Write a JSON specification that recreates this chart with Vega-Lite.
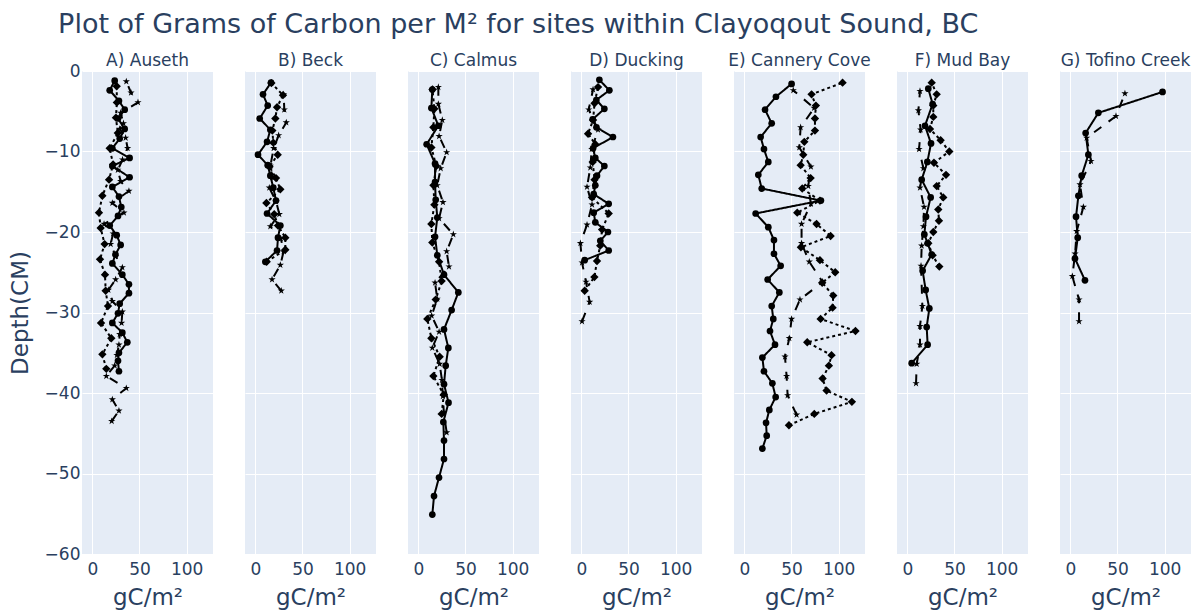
{
  "$schema": "https://vega.github.io/schema/vega-lite/v6.json",
  "background": "white",
  "padding": {"left": 9, "top": 10, "right": 5, "bottom": 4},
  "title": {
    "text": "Plot of Grams of Carbon per M² for sites within Clayoqout Sound, BC",
    "anchor": "start",
    "frame": "bounds",
    "dx": 49,
    "offset": 13.5,
    "font": "DejaVu Sans",
    "fontSize": 27,
    "fontWeight": "normal",
    "color": "#2a3f5f"
  },
  "config": {
    "view": {"fill": "#E5ECF6", "stroke": null},
    "axis": {
      "gridColor": "white",
      "gridWidth": 1,
      "gridOpacity": 1,
      "domain": false,
      "ticks": false,
      "labelColor": "#2a3f5f",
      "titleColor": "#2a3f5f",
      "labelFont": "DejaVu Sans",
      "titleFont": "DejaVu Sans",
      "labelFontSize": 17,
      "titleFontSize": 23,
      "titleFontWeight": "normal"
    },
    "header": {
      "labelFont": "DejaVu Sans",
      "labelFontSize": 17,
      "labelColor": "#2a3f5f"
    }
  },
  "data": {
    "values": [
      {"site": "A) Auseth", "core": "1", "depth": -1.2, "gc": 23.7},
      {"site": "A) Auseth", "core": "1", "depth": -2.4, "gc": 18.4},
      {"site": "A) Auseth", "core": "1", "depth": -3.7, "gc": 28.2},
      {"site": "A) Auseth", "core": "1", "depth": -4.8, "gc": 34.3},
      {"site": "A) Auseth", "core": "1", "depth": -5.9, "gc": 27.2},
      {"site": "A) Auseth", "core": "1", "depth": -7.2, "gc": 34.3},
      {"site": "A) Auseth", "core": "1", "depth": -8.4, "gc": 29.0},
      {"site": "A) Auseth", "core": "1", "depth": -9.6, "gc": 21.2},
      {"site": "A) Auseth", "core": "1", "depth": -10.8, "gc": 39.5},
      {"site": "A) Auseth", "core": "1", "depth": -11.8, "gc": 21.2},
      {"site": "A) Auseth", "core": "1", "depth": -13.2, "gc": 39.5},
      {"site": "A) Auseth", "core": "1", "depth": -14.4, "gc": 21.2},
      {"site": "A) Auseth", "core": "1", "depth": -15.6, "gc": 28.2},
      {"site": "A) Auseth", "core": "1", "depth": -16.9, "gc": 30.7},
      {"site": "A) Auseth", "core": "1", "depth": -18.0, "gc": 27.2},
      {"site": "A) Auseth", "core": "1", "depth": -19.2, "gc": 18.4},
      {"site": "A) Auseth", "core": "1", "depth": -20.4, "gc": 25.8},
      {"site": "A) Auseth", "core": "1", "depth": -21.6, "gc": 30.0},
      {"site": "A) Auseth", "core": "1", "depth": -22.8, "gc": 24.5},
      {"site": "A) Auseth", "core": "1", "depth": -23.9, "gc": 21.2},
      {"site": "A) Auseth", "core": "1", "depth": -25.3, "gc": 31.8},
      {"site": "A) Auseth", "core": "1", "depth": -26.5, "gc": 38.8},
      {"site": "A) Auseth", "core": "1", "depth": -27.6, "gc": 38.8},
      {"site": "A) Auseth", "core": "1", "depth": -28.9, "gc": 29.0},
      {"site": "A) Auseth", "core": "1", "depth": -30.1, "gc": 27.2},
      {"site": "A) Auseth", "core": "1", "depth": -31.3, "gc": 21.2},
      {"site": "A) Auseth", "core": "1", "depth": -32.5, "gc": 31.8},
      {"site": "A) Auseth", "core": "1", "depth": -33.7, "gc": 37.1},
      {"site": "A) Auseth", "core": "1", "depth": -35.0, "gc": 28.2},
      {"site": "A) Auseth", "core": "1", "depth": -36.0, "gc": 27.2},
      {"site": "A) Auseth", "core": "1", "depth": -37.3, "gc": 28.2},
      {"site": "A) Auseth", "core": "2", "depth": -1.3, "gc": 36.0},
      {"site": "A) Auseth", "core": "2", "depth": -2.7, "gc": 41.0},
      {"site": "A) Auseth", "core": "2", "depth": -3.9, "gc": 48.4},
      {"site": "A) Auseth", "core": "2", "depth": -5.2, "gc": 30.0},
      {"site": "A) Auseth", "core": "2", "depth": -6.5, "gc": 33.0},
      {"site": "A) Auseth", "core": "2", "depth": -7.2, "gc": 29.0},
      {"site": "A) Auseth", "core": "2", "depth": -8.3, "gc": 35.3},
      {"site": "A) Auseth", "core": "2", "depth": -9.6, "gc": 37.4},
      {"site": "A) Auseth", "core": "2", "depth": -11.0, "gc": 32.0},
      {"site": "A) Auseth", "core": "2", "depth": -12.3, "gc": 27.0},
      {"site": "A) Auseth", "core": "2", "depth": -13.7, "gc": 30.0},
      {"site": "A) Auseth", "core": "2", "depth": -14.9, "gc": 38.8},
      {"site": "A) Auseth", "core": "2", "depth": -16.4, "gc": 21.2},
      {"site": "A) Auseth", "core": "2", "depth": -17.6, "gc": 33.5},
      {"site": "A) Auseth", "core": "2", "depth": -19.0, "gc": 12.4},
      {"site": "A) Auseth", "core": "2", "depth": -20.2, "gc": 22.0},
      {"site": "A) Auseth", "core": "2", "depth": -21.5, "gc": 19.4},
      {"site": "A) Auseth", "core": "2", "depth": -23.0, "gc": 24.7},
      {"site": "A) Auseth", "core": "2", "depth": -24.4, "gc": 31.8},
      {"site": "A) Auseth", "core": "2", "depth": -25.9, "gc": 24.7},
      {"site": "A) Auseth", "core": "2", "depth": -27.2, "gc": 17.0},
      {"site": "A) Auseth", "core": "2", "depth": -28.6, "gc": 21.2},
      {"site": "A) Auseth", "core": "2", "depth": -29.9, "gc": 31.8},
      {"site": "A) Auseth", "core": "2", "depth": -31.3, "gc": 31.0},
      {"site": "A) Auseth", "core": "2", "depth": -32.7, "gc": 29.0},
      {"site": "A) Auseth", "core": "2", "depth": -34.0, "gc": 28.2},
      {"site": "A) Auseth", "core": "2", "depth": -35.3, "gc": 26.0},
      {"site": "A) Auseth", "core": "2", "depth": -36.6, "gc": 23.7},
      {"site": "A) Auseth", "core": "2", "depth": -37.9, "gc": 14.8},
      {"site": "A) Auseth", "core": "2", "depth": -39.4, "gc": 36.0},
      {"site": "A) Auseth", "core": "2", "depth": -40.8, "gc": 21.2},
      {"site": "A) Auseth", "core": "2", "depth": -42.2, "gc": 28.2},
      {"site": "A) Auseth", "core": "2", "depth": -43.5, "gc": 20.5},
      {"site": "A) Auseth", "core": "3", "depth": -1.9, "gc": 25.8},
      {"site": "A) Auseth", "core": "3", "depth": -3.9, "gc": 26.0},
      {"site": "A) Auseth", "core": "3", "depth": -5.8, "gc": 25.0},
      {"site": "A) Auseth", "core": "3", "depth": -7.7, "gc": 27.0},
      {"site": "A) Auseth", "core": "3", "depth": -9.6, "gc": 18.4},
      {"site": "A) Auseth", "core": "3", "depth": -11.6, "gc": 22.0},
      {"site": "A) Auseth", "core": "3", "depth": -13.5, "gc": 17.7},
      {"site": "A) Auseth", "core": "3", "depth": -15.5, "gc": 10.6},
      {"site": "A) Auseth", "core": "3", "depth": -17.6, "gc": 7.0},
      {"site": "A) Auseth", "core": "3", "depth": -19.5, "gc": 8.8},
      {"site": "A) Auseth", "core": "3", "depth": -21.5, "gc": 13.0},
      {"site": "A) Auseth", "core": "3", "depth": -23.4, "gc": 8.1},
      {"site": "A) Auseth", "core": "3", "depth": -25.3, "gc": 13.4},
      {"site": "A) Auseth", "core": "3", "depth": -27.3, "gc": 14.1},
      {"site": "A) Auseth", "core": "3", "depth": -29.2, "gc": 16.6},
      {"site": "A) Auseth", "core": "3", "depth": -31.3, "gc": 9.2},
      {"site": "A) Auseth", "core": "3", "depth": -33.2, "gc": 20.1},
      {"site": "A) Auseth", "core": "3", "depth": -35.2, "gc": 10.6},
      {"site": "A) Auseth", "core": "3", "depth": -37.0, "gc": 14.8},

      {"site": "B) Beck", "core": "1", "depth": -1.45, "gc": 16.6},
      {"site": "B) Beck", "core": "1", "depth": -2.9, "gc": 8.1},
      {"site": "B) Beck", "core": "1", "depth": -4.3, "gc": 13.1},
      {"site": "B) Beck", "core": "1", "depth": -5.9, "gc": 4.6},
      {"site": "B) Beck", "core": "1", "depth": -7.3, "gc": 15.9},
      {"site": "B) Beck", "core": "1", "depth": -8.8, "gc": 12.4},
      {"site": "B) Beck", "core": "1", "depth": -10.4, "gc": 2.8},
      {"site": "B) Beck", "core": "1", "depth": -11.7, "gc": 13.1},
      {"site": "B) Beck", "core": "1", "depth": -13.0, "gc": 15.9},
      {"site": "B) Beck", "core": "1", "depth": -14.5, "gc": 19.0},
      {"site": "B) Beck", "core": "1", "depth": -16.1, "gc": 21.9},
      {"site": "B) Beck", "core": "1", "depth": -17.7, "gc": 12.4},
      {"site": "B) Beck", "core": "1", "depth": -19.2, "gc": 26.5},
      {"site": "B) Beck", "core": "1", "depth": -20.7, "gc": 24.0},
      {"site": "B) Beck", "core": "1", "depth": -22.3, "gc": 23.0},
      {"site": "B) Beck", "core": "1", "depth": -23.7, "gc": 10.6},
      {"site": "B) Beck", "core": "2", "depth": -2.9, "gc": 30.0},
      {"site": "B) Beck", "core": "2", "depth": -4.8, "gc": 30.7},
      {"site": "B) Beck", "core": "2", "depth": -6.4, "gc": 32.8},
      {"site": "B) Beck", "core": "2", "depth": -8.0, "gc": 24.7},
      {"site": "B) Beck", "core": "2", "depth": -9.6, "gc": 19.4},
      {"site": "B) Beck", "core": "2", "depth": -11.8, "gc": 15.9},
      {"site": "B) Beck", "core": "2", "depth": -13.2, "gc": 18.0},
      {"site": "B) Beck", "core": "2", "depth": -14.5, "gc": 14.8},
      {"site": "B) Beck", "core": "2", "depth": -16.2, "gc": 22.0},
      {"site": "B) Beck", "core": "2", "depth": -17.8, "gc": 25.4},
      {"site": "B) Beck", "core": "2", "depth": -19.3, "gc": 15.9},
      {"site": "B) Beck", "core": "2", "depth": -20.8, "gc": 27.0},
      {"site": "B) Beck", "core": "2", "depth": -22.4, "gc": 30.0},
      {"site": "B) Beck", "core": "2", "depth": -24.1, "gc": 26.5},
      {"site": "B) Beck", "core": "2", "depth": -25.9, "gc": 17.7},
      {"site": "B) Beck", "core": "2", "depth": -27.3, "gc": 27.5},
      {"site": "B) Beck", "core": "3", "depth": -1.5, "gc": 17.0},
      {"site": "B) Beck", "core": "3", "depth": -3.0, "gc": 29.3},
      {"site": "B) Beck", "core": "3", "depth": -4.5, "gc": 23.0},
      {"site": "B) Beck", "core": "3", "depth": -5.9, "gc": 21.2},
      {"site": "B) Beck", "core": "3", "depth": -7.4, "gc": 18.0},
      {"site": "B) Beck", "core": "3", "depth": -8.9, "gc": 19.0},
      {"site": "B) Beck", "core": "3", "depth": -10.4, "gc": 23.7},
      {"site": "B) Beck", "core": "3", "depth": -11.9, "gc": 15.0},
      {"site": "B) Beck", "core": "3", "depth": -13.3, "gc": 21.9},
      {"site": "B) Beck", "core": "3", "depth": -14.7, "gc": 26.5},
      {"site": "B) Beck", "core": "3", "depth": -16.4, "gc": 11.7},
      {"site": "B) Beck", "core": "3", "depth": -17.8, "gc": 20.0},
      {"site": "B) Beck", "core": "3", "depth": -19.2, "gc": 24.0},
      {"site": "B) Beck", "core": "3", "depth": -20.7, "gc": 31.8},
      {"site": "B) Beck", "core": "3", "depth": -22.2, "gc": 31.8},
      {"site": "B) Beck", "core": "3", "depth": -23.7, "gc": 12.0},

      {"site": "C) Calmus", "core": "1", "depth": -2.3, "gc": 14.8},
      {"site": "C) Calmus", "core": "1", "depth": -4.6, "gc": 13.8},
      {"site": "C) Calmus", "core": "1", "depth": -6.8, "gc": 21.2},
      {"site": "C) Calmus", "core": "1", "depth": -9.1, "gc": 8.8},
      {"site": "C) Calmus", "core": "1", "depth": -11.5, "gc": 17.7},
      {"site": "C) Calmus", "core": "1", "depth": -13.8, "gc": 17.7},
      {"site": "C) Calmus", "core": "1", "depth": -16.0, "gc": 18.4},
      {"site": "C) Calmus", "core": "1", "depth": -18.2, "gc": 20.1},
      {"site": "C) Calmus", "core": "1", "depth": -20.6, "gc": 17.7},
      {"site": "C) Calmus", "core": "1", "depth": -22.9, "gc": 20.1},
      {"site": "C) Calmus", "core": "1", "depth": -25.3, "gc": 27.2},
      {"site": "C) Calmus", "core": "1", "depth": -27.5, "gc": 42.4},
      {"site": "C) Calmus", "core": "1", "depth": -29.7, "gc": 35.3},
      {"site": "C) Calmus", "core": "1", "depth": -32.1, "gc": 27.2},
      {"site": "C) Calmus", "core": "1", "depth": -34.4, "gc": 31.8},
      {"site": "C) Calmus", "core": "1", "depth": -36.6, "gc": 29.0},
      {"site": "C) Calmus", "core": "1", "depth": -38.9, "gc": 27.2},
      {"site": "C) Calmus", "core": "1", "depth": -41.2, "gc": 32.0},
      {"site": "C) Calmus", "core": "1", "depth": -43.6, "gc": 26.5},
      {"site": "C) Calmus", "core": "1", "depth": -45.9, "gc": 27.2},
      {"site": "C) Calmus", "core": "1", "depth": -48.2, "gc": 27.2},
      {"site": "C) Calmus", "core": "1", "depth": -50.5, "gc": 21.9},
      {"site": "C) Calmus", "core": "1", "depth": -52.8, "gc": 16.6},
      {"site": "C) Calmus", "core": "1", "depth": -55.1, "gc": 14.8},
      {"site": "C) Calmus", "core": "2", "depth": -2.0, "gc": 21.2},
      {"site": "C) Calmus", "core": "2", "depth": -4.1, "gc": 21.2},
      {"site": "C) Calmus", "core": "2", "depth": -6.1, "gc": 25.4},
      {"site": "C) Calmus", "core": "2", "depth": -8.1, "gc": 22.0},
      {"site": "C) Calmus", "core": "2", "depth": -10.1, "gc": 30.0},
      {"site": "C) Calmus", "core": "2", "depth": -12.1, "gc": 23.7},
      {"site": "C) Calmus", "core": "2", "depth": -14.2, "gc": 20.0},
      {"site": "C) Calmus", "core": "2", "depth": -16.3, "gc": 26.1},
      {"site": "C) Calmus", "core": "2", "depth": -18.3, "gc": 22.0},
      {"site": "C) Calmus", "core": "2", "depth": -20.3, "gc": 37.1},
      {"site": "C) Calmus", "core": "2", "depth": -22.4, "gc": 30.0},
      {"site": "C) Calmus", "core": "2", "depth": -24.3, "gc": 32.5},
      {"site": "C) Calmus", "core": "2", "depth": -26.3, "gc": 17.7},
      {"site": "C) Calmus", "core": "2", "depth": -28.3, "gc": 20.0},
      {"site": "C) Calmus", "core": "2", "depth": -30.4, "gc": 14.1},
      {"site": "C) Calmus", "core": "2", "depth": -32.4, "gc": 22.0},
      {"site": "C) Calmus", "core": "2", "depth": -34.4, "gc": 14.8},
      {"site": "C) Calmus", "core": "2", "depth": -36.4, "gc": 22.6},
      {"site": "C) Calmus", "core": "2", "depth": -38.4, "gc": 25.0},
      {"site": "C) Calmus", "core": "2", "depth": -40.4, "gc": 26.0},
      {"site": "C) Calmus", "core": "2", "depth": -42.4, "gc": 27.0},
      {"site": "C) Calmus", "core": "2", "depth": -44.9, "gc": 30.0},
      {"site": "C) Calmus", "core": "3", "depth": -2.3, "gc": 15.0},
      {"site": "C) Calmus", "core": "3", "depth": -4.7, "gc": 17.0},
      {"site": "C) Calmus", "core": "3", "depth": -7.0, "gc": 15.9},
      {"site": "C) Calmus", "core": "3", "depth": -9.5, "gc": 13.8},
      {"site": "C) Calmus", "core": "3", "depth": -11.8, "gc": 19.0},
      {"site": "C) Calmus", "core": "3", "depth": -14.2, "gc": 16.0},
      {"site": "C) Calmus", "core": "3", "depth": -16.6, "gc": 17.0},
      {"site": "C) Calmus", "core": "3", "depth": -19.0, "gc": 13.8},
      {"site": "C) Calmus", "core": "3", "depth": -21.3, "gc": 14.8},
      {"site": "C) Calmus", "core": "3", "depth": -23.7, "gc": 22.0},
      {"site": "C) Calmus", "core": "3", "depth": -26.1, "gc": 24.7},
      {"site": "C) Calmus", "core": "3", "depth": -28.4, "gc": 18.4},
      {"site": "C) Calmus", "core": "3", "depth": -30.8, "gc": 9.5},
      {"site": "C) Calmus", "core": "3", "depth": -33.2, "gc": 13.8},
      {"site": "C) Calmus", "core": "3", "depth": -35.5, "gc": 22.6},
      {"site": "C) Calmus", "core": "3", "depth": -37.9, "gc": 15.9},
      {"site": "C) Calmus", "core": "3", "depth": -40.2, "gc": 27.0},
      {"site": "C) Calmus", "core": "3", "depth": -42.6, "gc": 24.7},

      {"site": "D) Ducking", "core": "1", "depth": -1.1, "gc": 19.1},
      {"site": "D) Ducking", "core": "1", "depth": -2.4, "gc": 29.7},
      {"site": "D) Ducking", "core": "1", "depth": -3.6, "gc": 15.9},
      {"site": "D) Ducking", "core": "1", "depth": -4.7, "gc": 24.4},
      {"site": "D) Ducking", "core": "1", "depth": -6.0, "gc": 12.0},
      {"site": "D) Ducking", "core": "1", "depth": -7.0, "gc": 16.0},
      {"site": "D) Ducking", "core": "1", "depth": -8.2, "gc": 33.5},
      {"site": "D) Ducking", "core": "1", "depth": -9.6, "gc": 12.4},
      {"site": "D) Ducking", "core": "1", "depth": -10.8, "gc": 14.8},
      {"site": "D) Ducking", "core": "1", "depth": -11.8, "gc": 24.4},
      {"site": "D) Ducking", "core": "1", "depth": -13.0, "gc": 16.6},
      {"site": "D) Ducking", "core": "1", "depth": -14.2, "gc": 14.8},
      {"site": "D) Ducking", "core": "1", "depth": -15.3, "gc": 13.1},
      {"site": "D) Ducking", "core": "1", "depth": -16.5, "gc": 29.0},
      {"site": "D) Ducking", "core": "1", "depth": -17.6, "gc": 13.1},
      {"site": "D) Ducking", "core": "1", "depth": -18.8, "gc": 14.8},
      {"site": "D) Ducking", "core": "1", "depth": -20.0, "gc": 28.2},
      {"site": "D) Ducking", "core": "1", "depth": -21.1, "gc": 20.1},
      {"site": "D) Ducking", "core": "1", "depth": -22.3, "gc": 29.0},
      {"site": "D) Ducking", "core": "1", "depth": -23.5, "gc": 3.5},
      {"site": "D) Ducking", "core": "2", "depth": -2.3, "gc": 12.4},
      {"site": "D) Ducking", "core": "2", "depth": -4.8, "gc": 7.8},
      {"site": "D) Ducking", "core": "2", "depth": -7.3, "gc": 17.7},
      {"site": "D) Ducking", "core": "2", "depth": -9.7, "gc": 11.0},
      {"site": "D) Ducking", "core": "2", "depth": -12.0, "gc": 9.5},
      {"site": "D) Ducking", "core": "2", "depth": -14.4, "gc": 6.0},
      {"site": "D) Ducking", "core": "2", "depth": -16.6, "gc": 11.3},
      {"site": "D) Ducking", "core": "2", "depth": -19.1, "gc": 6.0},
      {"site": "D) Ducking", "core": "2", "depth": -21.4, "gc": -1.0},
      {"site": "D) Ducking", "core": "2", "depth": -23.8, "gc": 0.7},
      {"site": "D) Ducking", "core": "2", "depth": -26.2, "gc": 4.9},
      {"site": "D) Ducking", "core": "2", "depth": -28.7, "gc": 8.8},
      {"site": "D) Ducking", "core": "2", "depth": -31.1, "gc": 0.7},
      {"site": "D) Ducking", "core": "3", "depth": -2.0, "gc": 17.7},
      {"site": "D) Ducking", "core": "3", "depth": -4.0, "gc": 14.0},
      {"site": "D) Ducking", "core": "3", "depth": -6.1, "gc": 12.4},
      {"site": "D) Ducking", "core": "3", "depth": -7.8, "gc": 7.1},
      {"site": "D) Ducking", "core": "3", "depth": -9.1, "gc": 14.8},
      {"site": "D) Ducking", "core": "3", "depth": -11.3, "gc": 12.0},
      {"site": "D) Ducking", "core": "3", "depth": -13.5, "gc": 14.0},
      {"site": "D) Ducking", "core": "3", "depth": -15.7, "gc": 11.3},
      {"site": "D) Ducking", "core": "3", "depth": -17.7, "gc": 29.0},
      {"site": "D) Ducking", "core": "3", "depth": -19.7, "gc": 22.0},
      {"site": "D) Ducking", "core": "3", "depth": -21.7, "gc": 20.0},
      {"site": "D) Ducking", "core": "3", "depth": -23.6, "gc": 16.6},
      {"site": "D) Ducking", "core": "3", "depth": -25.6, "gc": 13.8},
      {"site": "D) Ducking", "core": "3", "depth": -27.3, "gc": 3.5},

      {"site": "E) Cannery Cove", "core": "1", "depth": -1.6, "gc": 50.1},
      {"site": "E) Cannery Cove", "core": "1", "depth": -3.2, "gc": 33.5},
      {"site": "E) Cannery Cove", "core": "1", "depth": -4.8, "gc": 21.9},
      {"site": "E) Cannery Cove", "core": "1", "depth": -6.5, "gc": 29.0},
      {"site": "E) Cannery Cove", "core": "1", "depth": -8.2, "gc": 17.3},
      {"site": "E) Cannery Cove", "core": "1", "depth": -9.7, "gc": 20.8},
      {"site": "E) Cannery Cove", "core": "1", "depth": -11.3, "gc": 25.4},
      {"site": "E) Cannery Cove", "core": "1", "depth": -12.9, "gc": 14.8},
      {"site": "E) Cannery Cove", "core": "1", "depth": -14.6, "gc": 18.4},
      {"site": "E) Cannery Cove", "core": "1", "depth": -16.1, "gc": 81.2},
      {"site": "E) Cannery Cove", "core": "1", "depth": -17.7, "gc": 12.0},
      {"site": "E) Cannery Cove", "core": "1", "depth": -19.4, "gc": 25.4},
      {"site": "E) Cannery Cove", "core": "1", "depth": -21.0, "gc": 31.4},
      {"site": "E) Cannery Cove", "core": "1", "depth": -22.7, "gc": 31.4},
      {"site": "E) Cannery Cove", "core": "1", "depth": -24.2, "gc": 38.5},
      {"site": "E) Cannery Cove", "core": "1", "depth": -25.9, "gc": 24.7},
      {"site": "E) Cannery Cove", "core": "1", "depth": -27.5, "gc": 37.1},
      {"site": "E) Cannery Cove", "core": "1", "depth": -29.2, "gc": 29.0},
      {"site": "E) Cannery Cove", "core": "1", "depth": -30.8, "gc": 30.7},
      {"site": "E) Cannery Cove", "core": "1", "depth": -32.3, "gc": 27.2},
      {"site": "E) Cannery Cove", "core": "1", "depth": -34.0, "gc": 32.5},
      {"site": "E) Cannery Cove", "core": "1", "depth": -35.6, "gc": 19.1},
      {"site": "E) Cannery Cove", "core": "1", "depth": -37.3, "gc": 20.8},
      {"site": "E) Cannery Cove", "core": "1", "depth": -38.8, "gc": 29.7},
      {"site": "E) Cannery Cove", "core": "1", "depth": -40.5, "gc": 33.2},
      {"site": "E) Cannery Cove", "core": "1", "depth": -42.1, "gc": 26.5},
      {"site": "E) Cannery Cove", "core": "1", "depth": -43.7, "gc": 23.0},
      {"site": "E) Cannery Cove", "core": "1", "depth": -45.3, "gc": 23.7},
      {"site": "E) Cannery Cove", "core": "1", "depth": -46.9, "gc": 19.1},
      {"site": "E) Cannery Cove", "core": "2", "depth": -2.4, "gc": 51.9},
      {"site": "E) Cannery Cove", "core": "2", "depth": -4.6, "gc": 74.0},
      {"site": "E) Cannery Cove", "core": "2", "depth": -7.0, "gc": 59.7},
      {"site": "E) Cannery Cove", "core": "2", "depth": -9.5, "gc": 58.3},
      {"site": "E) Cannery Cove", "core": "2", "depth": -11.9, "gc": 70.6},
      {"site": "E) Cannery Cove", "core": "2", "depth": -14.3, "gc": 67.8},
      {"site": "E) Cannery Cove", "core": "2", "depth": -16.5, "gc": 70.6},
      {"site": "E) Cannery Cove", "core": "2", "depth": -19.0, "gc": 60.7},
      {"site": "E) Cannery Cove", "core": "2", "depth": -21.4, "gc": 60.7},
      {"site": "E) Cannery Cove", "core": "2", "depth": -23.7, "gc": 68.9},
      {"site": "E) Cannery Cove", "core": "2", "depth": -26.2, "gc": 83.0},
      {"site": "E) Cannery Cove", "core": "2", "depth": -28.4, "gc": 59.0},
      {"site": "E) Cannery Cove", "core": "2", "depth": -30.8, "gc": 50.1},
      {"site": "E) Cannery Cove", "core": "2", "depth": -33.2, "gc": 47.7},
      {"site": "E) Cannery Cove", "core": "2", "depth": -35.5, "gc": 43.1},
      {"site": "E) Cannery Cove", "core": "2", "depth": -37.9, "gc": 44.8},
      {"site": "E) Cannery Cove", "core": "2", "depth": -40.3, "gc": 45.9},
      {"site": "E) Cannery Cove", "core": "2", "depth": -42.7, "gc": 55.4},
      {"site": "E) Cannery Cove", "core": "3", "depth": -1.45, "gc": 104.2},
      {"site": "E) Cannery Cove", "core": "3", "depth": -2.9, "gc": 71.3},
      {"site": "E) Cannery Cove", "core": "3", "depth": -4.3, "gc": 75.9},
      {"site": "E) Cannery Cove", "core": "3", "depth": -5.9, "gc": 74.9},
      {"site": "E) Cannery Cove", "core": "3", "depth": -7.4, "gc": 74.9},
      {"site": "E) Cannery Cove", "core": "3", "depth": -8.8, "gc": 63.6},
      {"site": "E) Cannery Cove", "core": "3", "depth": -10.4, "gc": 62.5},
      {"site": "E) Cannery Cove", "core": "3", "depth": -11.7, "gc": 59.7},
      {"site": "E) Cannery Cove", "core": "3", "depth": -13.3, "gc": 70.3},
      {"site": "E) Cannery Cove", "core": "3", "depth": -14.6, "gc": 61.4},
      {"site": "E) Cannery Cove", "core": "3", "depth": -16.1, "gc": 80.2},
      {"site": "E) Cannery Cove", "core": "3", "depth": -17.6, "gc": 56.1},
      {"site": "E) Cannery Cove", "core": "3", "depth": -19.0, "gc": 76.6},
      {"site": "E) Cannery Cove", "core": "3", "depth": -20.5, "gc": 91.5},
      {"site": "E) Cannery Cove", "core": "3", "depth": -21.9, "gc": 60.0},
      {"site": "E) Cannery Cove", "core": "3", "depth": -23.5, "gc": 80.2},
      {"site": "E) Cannery Cove", "core": "3", "depth": -25.0, "gc": 96.4},
      {"site": "E) Cannery Cove", "core": "3", "depth": -26.3, "gc": 82.6},
      {"site": "E) Cannery Cove", "core": "3", "depth": -27.9, "gc": 94.3},
      {"site": "E) Cannery Cove", "core": "3", "depth": -29.4, "gc": 93.6},
      {"site": "E) Cannery Cove", "core": "3", "depth": -30.8, "gc": 80.9},
      {"site": "E) Cannery Cove", "core": "3", "depth": -32.3, "gc": 117.9},
      {"site": "E) Cannery Cove", "core": "3", "depth": -33.7, "gc": 66.7},
      {"site": "E) Cannery Cove", "core": "3", "depth": -35.3, "gc": 92.5},
      {"site": "E) Cannery Cove", "core": "3", "depth": -36.6, "gc": 89.7},
      {"site": "E) Cannery Cove", "core": "3", "depth": -38.2, "gc": 83.0},
      {"site": "E) Cannery Cove", "core": "3", "depth": -39.7, "gc": 87.2},
      {"site": "E) Cannery Cove", "core": "3", "depth": -41.1, "gc": 114.1},
      {"site": "E) Cannery Cove", "core": "3", "depth": -42.6, "gc": 74.2},
      {"site": "E) Cannery Cove", "core": "3", "depth": -44.0, "gc": 47.3},

      {"site": "F) Mud Bay", "core": "1", "depth": -2.2, "gc": 22.2},
      {"site": "F) Mud Bay", "core": "1", "depth": -4.1, "gc": 26.8},
      {"site": "F) Mud Bay", "core": "1", "depth": -6.8, "gc": 18.7},
      {"site": "F) Mud Bay", "core": "1", "depth": -9.0, "gc": 25.1},
      {"site": "F) Mud Bay", "core": "1", "depth": -11.3, "gc": 21.2},
      {"site": "F) Mud Bay", "core": "1", "depth": -13.5, "gc": 15.2},
      {"site": "F) Mud Bay", "core": "1", "depth": -15.7, "gc": 24.7},
      {"site": "F) Mud Bay", "core": "1", "depth": -18.1, "gc": 19.8},
      {"site": "F) Mud Bay", "core": "1", "depth": -20.3, "gc": 18.0},
      {"site": "F) Mud Bay", "core": "1", "depth": -21.4, "gc": 21.5},
      {"site": "F) Mud Bay", "core": "1", "depth": -22.8, "gc": 25.8},
      {"site": "F) Mud Bay", "core": "1", "depth": -24.8, "gc": 16.2},
      {"site": "F) Mud Bay", "core": "1", "depth": -27.2, "gc": 19.4},
      {"site": "F) Mud Bay", "core": "1", "depth": -29.5, "gc": 23.3},
      {"site": "F) Mud Bay", "core": "1", "depth": -31.8, "gc": 20.5},
      {"site": "F) Mud Bay", "core": "1", "depth": -34.0, "gc": 21.5},
      {"site": "F) Mud Bay", "core": "1", "depth": -36.3, "gc": 4.6},
      {"site": "F) Mud Bay", "core": "2", "depth": -2.5, "gc": 13.4},
      {"site": "F) Mud Bay", "core": "2", "depth": -4.9, "gc": 11.7},
      {"site": "F) Mud Bay", "core": "2", "depth": -7.3, "gc": 14.1},
      {"site": "F) Mud Bay", "core": "2", "depth": -9.7, "gc": 12.4},
      {"site": "F) Mud Bay", "core": "2", "depth": -12.1, "gc": 17.0},
      {"site": "F) Mud Bay", "core": "2", "depth": -14.5, "gc": 13.4},
      {"site": "F) Mud Bay", "core": "2", "depth": -16.9, "gc": 17.7},
      {"site": "F) Mud Bay", "core": "2", "depth": -19.3, "gc": 17.0},
      {"site": "F) Mud Bay", "core": "2", "depth": -21.7, "gc": 15.2},
      {"site": "F) Mud Bay", "core": "2", "depth": -24.2, "gc": 14.5},
      {"site": "F) Mud Bay", "core": "2", "depth": -29.2, "gc": 15.9},
      {"site": "F) Mud Bay", "core": "2", "depth": -31.7, "gc": 13.4},
      {"site": "F) Mud Bay", "core": "2", "depth": -34.0, "gc": 13.4},
      {"site": "F) Mud Bay", "core": "2", "depth": -36.4, "gc": 9.9},
      {"site": "F) Mud Bay", "core": "2", "depth": -38.8, "gc": 9.2},
      {"site": "F) Mud Bay", "core": "3", "depth": -1.45, "gc": 25.8},
      {"site": "F) Mud Bay", "core": "3", "depth": -2.9, "gc": 31.1},
      {"site": "F) Mud Bay", "core": "3", "depth": -4.3, "gc": 27.5},
      {"site": "F) Mud Bay", "core": "3", "depth": -5.7, "gc": 27.5},
      {"site": "F) Mud Bay", "core": "3", "depth": -7.2, "gc": 24.0},
      {"site": "F) Mud Bay", "core": "3", "depth": -8.6, "gc": 35.3},
      {"site": "F) Mud Bay", "core": "3", "depth": -10.0, "gc": 44.5},
      {"site": "F) Mud Bay", "core": "3", "depth": -11.4, "gc": 28.2},
      {"site": "F) Mud Bay", "core": "3", "depth": -12.9, "gc": 41.0},
      {"site": "F) Mud Bay", "core": "3", "depth": -14.3, "gc": 31.1},
      {"site": "F) Mud Bay", "core": "3", "depth": -15.7, "gc": 38.1},
      {"site": "F) Mud Bay", "core": "3", "depth": -17.2, "gc": 32.8},
      {"site": "F) Mud Bay", "core": "3", "depth": -18.6, "gc": 33.5},
      {"site": "F) Mud Bay", "core": "3", "depth": -20.0, "gc": 27.5},
      {"site": "F) Mud Bay", "core": "3", "depth": -21.4, "gc": 22.2},
      {"site": "F) Mud Bay", "core": "3", "depth": -22.9, "gc": 26.8},
      {"site": "F) Mud Bay", "core": "3", "depth": -24.3, "gc": 33.9},

      {"site": "G) Tofino Creek", "core": "1", "depth": -2.6, "gc": 97.8},
      {"site": "G) Tofino Creek", "core": "1", "depth": -5.2, "gc": 29.7},
      {"site": "G) Tofino Creek", "core": "1", "depth": -7.7, "gc": 16.2},
      {"site": "G) Tofino Creek", "core": "1", "depth": -10.4, "gc": 19.1},
      {"site": "G) Tofino Creek", "core": "1", "depth": -13.0, "gc": 12.0},
      {"site": "G) Tofino Creek", "core": "1", "depth": -15.5, "gc": 8.5},
      {"site": "G) Tofino Creek", "core": "1", "depth": -18.1, "gc": 6.0},
      {"site": "G) Tofino Creek", "core": "1", "depth": -20.7, "gc": 7.8},
      {"site": "G) Tofino Creek", "core": "1", "depth": -23.3, "gc": 4.9},
      {"site": "G) Tofino Creek", "core": "1", "depth": -26.0, "gc": 15.5},
      {"site": "G) Tofino Creek", "core": "2", "depth": -2.8, "gc": 57.9},
      {"site": "G) Tofino Creek", "core": "2", "depth": -5.6, "gc": 48.4},
      {"site": "G) Tofino Creek", "core": "2", "depth": -8.3, "gc": 17.3},
      {"site": "G) Tofino Creek", "core": "2", "depth": -11.2, "gc": 21.9},
      {"site": "G) Tofino Creek", "core": "2", "depth": -14.1, "gc": 10.2},
      {"site": "G) Tofino Creek", "core": "2", "depth": -16.9, "gc": 13.8},
      {"site": "G) Tofino Creek", "core": "2", "depth": -19.9, "gc": 6.7},
      {"site": "G) Tofino Creek", "core": "2", "depth": -22.7, "gc": 5.0},
      {"site": "G) Tofino Creek", "core": "2", "depth": -25.5, "gc": 2.1},
      {"site": "G) Tofino Creek", "core": "2", "depth": -28.4, "gc": 9.2},
      {"site": "G) Tofino Creek", "core": "2", "depth": -31.1, "gc": 9.2}
    ]
  },
  "facet": {
    "column": {
      "field": "site",
      "type": "nominal",
      "sort": "ascending",
      "header": {"title": null, "labelPadding": 1}
    }
  },
  "spacing": 32,
  "spec": {
    "width": 131,
    "height": 483,
    "encoding": {
      "x": {
        "field": "gc",
        "type": "quantitative",
        "scale": {"domain": [-11, 128], "nice": false, "zero": false},
        "axis": {"title": "gC/m²", "values": [0, 50, 100], "labelPadding": 7, "titlePadding": 9}
      },
      "y": {
        "field": "depth",
        "type": "quantitative",
        "scale": {"domain": [-60, 0], "nice": false, "zero": false},
        "axis": {"title": "Depth(CM)", "values": [-60, -50, -40, -30, -20, -10, 0], "labelPadding": 2, "titlePadding": 12}
      }
    },
    "layer": [
      {
        "mark": {"type": "line", "color": "black", "strokeWidth": 2},
        "encoding": {
          "detail": {"field": "core", "type": "nominal"},
          "order": {"field": "depth", "type": "quantitative"},
          "strokeDash": {
            "field": "core",
            "type": "nominal",
            "scale": {"domain": ["1", "2", "3"], "range": [[1, 0], [9, 9], [3, 3]]},
            "legend": null
          }
        }
      },
      {
        "mark": {"type": "point", "filled": true, "color": "black", "opacity": 1},
        "encoding": {
          "shape": {
            "field": "core",
            "type": "nominal",
            "scale": {
              "domain": ["1", "2", "3"],
              "range": ["circle", "M0,-1L0.224,-0.309L0.951,-0.309L0.363,0.118L0.588,0.809L0,0.382L-0.588,0.809L-0.363,0.118L-0.951,-0.309L-0.224,-0.309Z", "diamond"]
            },
            "legend": null
          },
          "size": {
            "field": "core",
            "type": "nominal",
            "scale": {"domain": ["1", "2", "3"], "range": [45, 70, 75]},
            "legend": null
          }
        }
      }
    ]
  }
}
